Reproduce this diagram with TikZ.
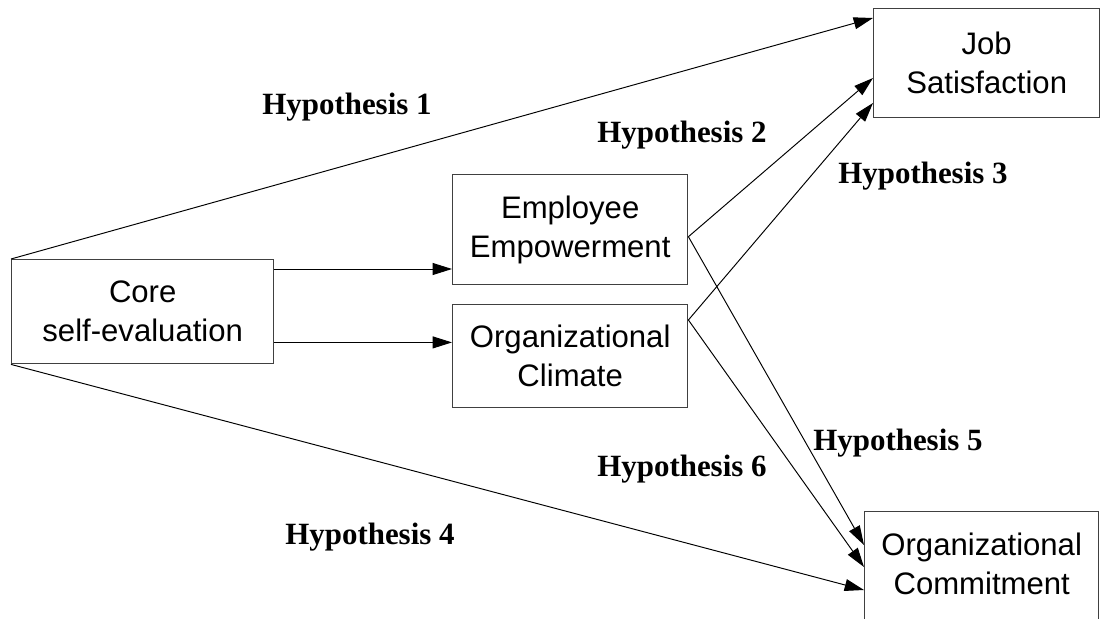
\documentclass[tikz,border=0pt]{standalone}
\usepackage{fontspec}
\setmainfont{Liberation Sans}
\newfontfamily\hypfont{Liberation Serif}
\usetikzlibrary{arrows.meta,calc}

\begin{document}
\begin{tikzpicture}[x=0.02cm,y=-0.02cm,
  box/.style={draw=black!75,line width=.8pt,rectangle,align=center,inner sep=0pt,anchor=north west,font=\fontsize{17.7}{22.2}\selectfont},
  path/.style={draw=black,line width=.55pt,-{Triangle[length=11pt,width=6.8pt]}},
  hyp/.style={anchor=base west,inner sep=0pt,font=\hypfont\bfseries\fontsize{17.6}{20}\selectfont}]
\useasboundingbox (0,0) rectangle (1100,619);
\node[box,minimum width=262*0.02cm,minimum height=104*0.02cm] (core) at (11,259) {Core\\self-evaluation};
\node[box,minimum width=235*0.02cm,minimum height=110*0.02cm] (ee) at (452,174) {Employee\\Empowerment};
\node[box,minimum width=235*0.02cm,minimum height=103*0.02cm] (oc) at (452,304) {Organizational\\Climate};
\node[box,minimum width=226*0.02cm,minimum height=109*0.02cm] (js) at (873,8) {Job\\Satisfaction};
\node[box,minimum width=234*0.02cm,minimum height=122*0.02cm,text depth=18*0.02cm] (com) at (864,511) {Organizational\\Commitment};
\coordinate (coreA) at ($(core.north east)+(0,10)$);
\coordinate (coreB) at ($(core.south east)+(0,-22)$);
\coordinate (eeOut) at ($(ee.east)+(0,7)$);
\coordinate (ocOut) at ($(oc.north east)+(0,16)$);
\coordinate (js1) at ($(js.north west)+(0,10)$);
\coordinate (js2) at ($(js.north west)+(0,70)$);
\coordinate (js3) at ($(js.north west)+(0,95)$);
\coordinate (com1) at ($(com.north west)+(0,34)$);
\coordinate (com2) at ($(com.north west)+(0,56)$);
\coordinate (com3) at ($(com.north west)+(0,79)$);
% paths out of core self-evaluation
\draw[path] (core.north west) -- (js1);
\draw[path] (coreA) -- (coreA -| ee.west);
\draw[path] (coreB) -- (coreB -| oc.west);
\draw[path] (core.south west) -- (com3);
% paths out of the two mediators
\draw[path] (eeOut) -- (js2);
\draw[path] (eeOut) -- (com1);
\draw[path] (ocOut) -- (js3);
\draw[path] (ocOut) -- (com2);
\node[hyp] (h1) at (262,114) {Hypothesis 1};
\node[hyp] (h2) at (597,142) {Hypothesis 2};
\node[hyp] (h3) at (838,183) {Hypothesis 3};
\node[hyp] (h4) at (285,544) {Hypothesis 4};
\node[hyp] (h5) at (813,450) {Hypothesis 5};
\node[hyp] (h6) at (597,476) {Hypothesis 6};
\end{tikzpicture}
\end{document}
